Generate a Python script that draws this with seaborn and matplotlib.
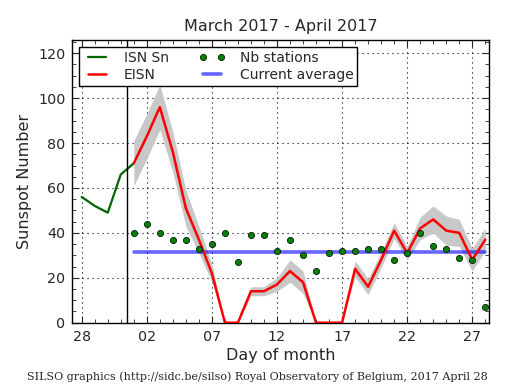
import numpy as np
import pandas as pd
import matplotlib
matplotlib.use("Agg")
import matplotlib.pyplot as plt
import matplotlib.dates as mdates
import seaborn as sns

# ISN Sn (definitive daily values, end of March)
isn_dates = pd.date_range("2017-03-28", "2017-04-01", freq="D")
isn_values = [56, 52, 49, 66, 71]

# EISN (estimated international sunspot number, April) and its error band
eisn_dates = pd.date_range("2017-04-01", "2017-04-28", freq="D")
eisn_values = [71, 83, 96, 76, 51, 37, 22, 0, 0, 14, 14, 17, 23, 18,
               0, 0, 0, 24, 16, 28, 41, 31, 42, 46, 41, 40, 28, 37]
eisn_error = [10, 10, 10, 9, 8, 6, 4, 0, 0, 2, 2, 3, 5, 5,
              0, 0, 0, 3.5, 3.5, 3.5, 3.5, 3, 5, 6, 6.5, 6, 5, 5]

# number of stations per day
nb_stations = [40, 44, 40, 37, 37, 33, 35, 40, 27, 39, 39, 32, 37, 30,
               23, 31, 32, 32, 33, 33, 28, 31, 40, 34, 33, 29, 28, 7]

current_average = 31.4

tick_dates = pd.to_datetime(["2017-03-28", "2017-04-02", "2017-04-07", "2017-04-12",
                             "2017-04-17", "2017-04-22", "2017-04-27"])
tick_labels = ["28", "02", "07", "12", "17", "22", "27"]


def main():
    sns.set_style("ticks", {"xtick.direction": "in", "ytick.direction": "in"})
    plt.rcParams["font.family"] = ["DejaVu Sans"]

    fig = plt.figure(figsize=(5.15, 3.9), dpi=100)
    ax = fig.add_axes([0.1404, 0.1726, 0.8096, 0.7254])

    df_isn = pd.DataFrame({"date": isn_dates, "value": isn_values})
    df_eisn = pd.DataFrame({"date": eisn_dates, "value": eisn_values,
                            "err": eisn_error, "nb": nb_stations})
    df_eisn["avg"] = current_average

    # error band first so it sits under everything
    ax.fill_between(df_eisn["date"], df_eisn["value"] - df_eisn["err"],
                    df_eisn["value"] + df_eisn["err"], color="#c8c8c8", lw=0, zorder=1)

    sns.lineplot(x="date", y="value", data=df_isn, ax=ax, color="darkgreen",
                 lw=1.6, label="ISN Sn", zorder=3)
    sns.lineplot(x="date", y="value", data=df_eisn, ax=ax, color="red",
                 lw=1.8, label="EISN", zorder=4)
    sns.lineplot(x="date", y="nb", data=df_eisn, ax=ax, color="green", linestyle="none",
                 marker="o", markersize=4.5, markeredgecolor="k", markeredgewidth=0.5,
                 label="Nb stations", zorder=5)
    sns.lineplot(x="date", y="avg", data=df_eisn, ax=ax, color="blue", alpha=0.6,
                 lw=2.6, label="Current average", zorder=2)

    # separator between definitive and estimated data
    ax.axvline(pd.Timestamp("2017-03-31 12:00"), color="k", lw=1.0, zorder=6)

    ax.set_xlim(pd.Timestamp("2017-03-27 06:40"), pd.Timestamp("2017-04-28 07:20"))
    ax.set_ylim(0, 126)
    ax.set_xticks(tick_dates)
    ax.set_xticklabels(tick_labels)
    ax.xaxis.set_minor_locator(mdates.DayLocator())
    ax.set_yticks(np.arange(0, 121, 20))
    ax.yaxis.set_minor_locator(plt.MultipleLocator(5))
    ax.tick_params(which="both", top=True, right=True, direction="in", labelsize=10.3, pad=5)
    ax.tick_params(which="major", length=5, width=0.8)
    ax.tick_params(which="minor", length=3, width=0.6)
    for s in ax.spines.values():
        s.set_color("k")
        s.set_linewidth(1.0)

    ax.grid(True, which="major", color="k", linestyle=(0, (1, 3.5)), linewidth=0.8)

    ax.set_title("March 2017 - April 2017", fontsize=11.5, pad=6)
    ax.set_xlabel("Day of month", fontsize=11.5, labelpad=3)
    ax.set_ylabel("Sunspot Number", fontsize=11.5, labelpad=4)

    handles, labels = ax.get_legend_handles_labels()
    leg = ax.legend(handles, labels, ncol=2, loc="upper left", fontsize=10, numpoints=2,
                    fancybox=False, framealpha=1, edgecolor="k", borderaxespad=0.5,
                    handlelength=1.9, handletextpad=1.0, columnspacing=2.2,
                    labelspacing=0.2, borderpad=0.3)
    leg.get_frame().set_linewidth(1.0)
    leg.set_zorder(10)

    fig.text(0.5, 0.02, "SILSO graphics (http://sidc.be/silso) Royal Observatory of Belgium, 2017 April 28",
             ha="center", va="bottom", fontsize=8, family="DejaVu Serif")

    fig.savefig("out.png", dpi=100, facecolor="white")


if __name__ == "__main__":
    main()
